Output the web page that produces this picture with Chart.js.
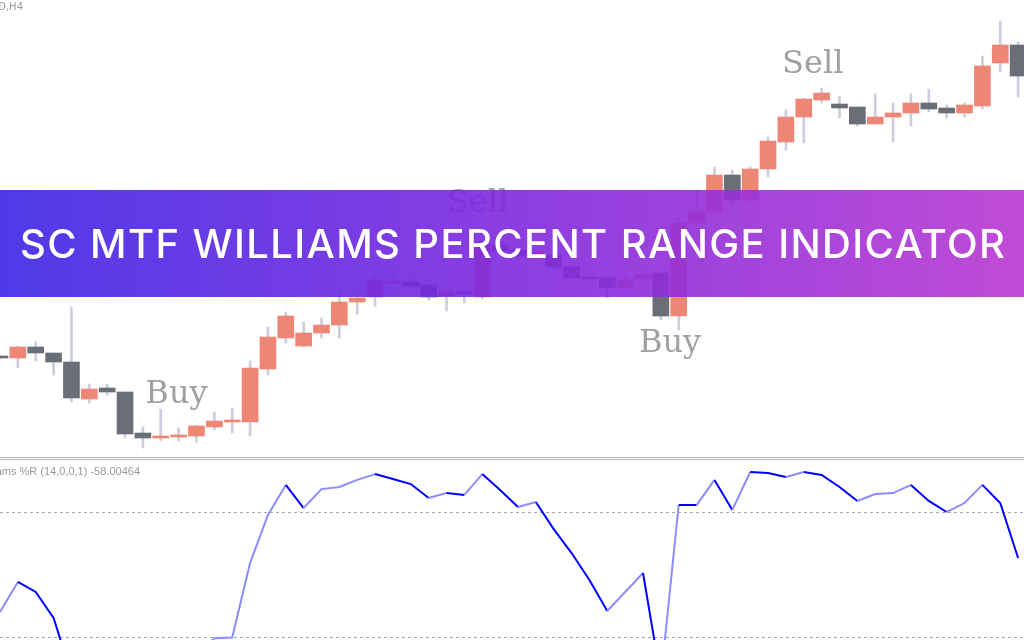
<!DOCTYPE html>
<html><head><meta charset="utf-8">
<script src="https://cdn.jsdelivr.net/npm/chart.js@4.4.1/dist/chart.umd.min.js"></script>
<style>
html,body{margin:0;padding:0;background:#fff;}
#wrap{position:relative;width:1024px;height:640px;overflow:hidden;background:#fff;}
#c1{position:absolute;left:0;top:0;}
#sep{position:absolute;left:0;top:457px;width:1024px;height:1px;border-top:1px solid #b4b4b4;border-bottom:1px solid #b4b4b4;}
#c2{position:absolute;left:0;top:460px;}
#banner{position:absolute;left:0;top:190px;width:1024px;height:107px;
 background:linear-gradient(90deg, rgba(60,36,229,0.9) 0%, rgba(127,40,222,0.9) 50%, rgba(185,56,209,0.9) 100%);}
#btxt{position:absolute;left:20px;top:0;line-height:107px;font-family:Inter,'Open Sans',sans-serif;font-weight:500;font-size:40px;color:#fff;white-space:nowrap;}
</style></head>
<body>
<div id="wrap">
  <canvas id="c1" width="1024" height="457"></canvas>
  <div id="sep"></div>
  <canvas id="c2" width="1024" height="180"></canvas>
  <div id="banner"><span id="btxt">SC MTF WILLIAMS PERCENT RANGE INDICATOR</span></div>
</div>
<script>
// ---- data (price in chart points) ----
const open  = [104,102,113,107,98,61,72,68,27,22,23,24,33,38,38,91,122,114,127,135,158,163,177,178,175,164,169,163,215,210,204,205,193,183,182,173,181,187,144,237,248,285,260,291,318,343,360,356,353,336,343,347,357,352,347,354,397,415];
const high  = [105,114,118,107,153,76,76,68,33,51,32,35,48,52,99,133,148,138,142,170,168,185,185,184,177,170,171,220,219,214,211,208,196,190,185,184,192,190,242,270,293,290,293,323,350,362,372,364,353,366,357,366,371,355,357,404,439,418];
const low   = [101,92,99,85,58,57,65,22,12,19,19,18,30,27,24,85,117,113,122,122,146,154,175,172,160,149,157,161,204,200,201,190,178,170,162,170,178,140,130,235,245,255,257,283,310,317,357,342,334,336,318,334,348,342,343,351,388,363];
const close = [102,113,107,98,62,71,68,26,22,24,25,34,39,40,92,123,144,127,135,158,162,180,179,174,163,168,166,215,209,204,208,193,182,181,172,180,186,144,237,248,285,260,291,319,343,361,367,352,336,343,347,357,351,347,355,394,415,384];
const wpr   = [-68.0,-53.6,-58.4,-70.9,-98,-90,-93,-100,-99,-96,-93,-88,-80.6,-80.3,-44.5,-21.4,-7.0,-18.1,-9.0,-8.0,-4.6,-1.8,-4.2,-6.6,-13.3,-10.9,-11.8,-1.8,-9.4,-17.6,-15.2,-28.2,-39.7,-52.6,-67.5,-58.4,-49.3,-100,-16.6,-16.7,-4.6,-19.0,-0.8,-1.3,-3.2,-0.8,-2.2,-8.0,-14.7,-11.4,-10.9,-7.0,-14.7,-20.0,-15.7,-7.0,-15.7,-42.1];
const levels = [-20, -80];
const signalText  = ['Buy', 'Sell', 'Buy', 'Sell'];
const signalIndex = [9.88, 26.74, 37.51, 45.5];
const signalPrice = [57, 248, 108, 387];
const symbolLabel = 'EURUSD,H4';
const indicatorLabel = 'Williams %R (14,0,0,1) -58.00464';

// ---- styles ----
const UP = '#ee8676', DOWN = '#6b6e77', WICK = '#cbcede';
const X_MIN = 0, X_MAX = 57.33;

const bodies = open.map((o, i) => ({x: i, y: [o, close[i]]}));
const wicks  = open.map((o, i) => ({x: i, y: [low[i], high[i]]}));
const bodyColors = open.map((o, i) => close[i] >= o ? UP : DOWN);

const signalPlugin = {
  id: 'signals',
  afterDatasetsDraw(chart) {
    const {ctx, scales: {x, y}} = chart;
    ctx.save();
    ctx.fillStyle = '#a0a0a0';
    ctx.font = '32px "DejaVu Serif", "Liberation Serif", serif';
    ctx.textAlign = 'center';
    ctx.textBaseline = 'alphabetic';
    signalText.forEach((t, i) => {
      ctx.fillText(t, x.getPixelForValue(signalIndex[i]), y.getPixelForValue(signalPrice[i]));
    });
    ctx.fillStyle = '#9a9a9a';
    ctx.font = '10px "DejaVu Sans", sans-serif';
    ctx.textAlign = 'right';
    ctx.textBaseline = 'top';
    ctx.fillText(symbolLabel, 23, 2);
    ctx.restore();
  }
};

new Chart(document.getElementById('c1'), {
  type: 'bar',
  data: {
    datasets: [
      {data: wicks, backgroundColor: WICK, barThickness: 2, grouped: false, order: 2},
      {data: bodies, backgroundColor: bodyColors, barThickness: 16, grouped: false, order: 1}
    ]
  },
  options: {
    responsive: false, animation: false,
    layout: {padding: 0},
    plugins: {legend: {display: false}, tooltip: {enabled: false}},
    scales: {
      x: {type: 'linear', min: X_MIN, max: X_MAX, offset: false, display: false},
      y: {type: 'linear', min: 3, max: 460, display: false}
    }
  },
  plugins: [signalPlugin]
});

const levelPlugin = {
  id: 'levels',
  beforeDatasetsDraw(chart) {
    const {ctx, chartArea, scales: {y}} = chart;
    ctx.save();
    ctx.strokeStyle = '#a8a8a8';
    ctx.lineWidth = 1;
    ctx.setLineDash([3, 3]);
    levels.forEach(v => {
      const py = Math.round(y.getPixelForValue(v)) + 0.5;
      ctx.beginPath(); ctx.moveTo(chartArea.left, py); ctx.lineTo(chartArea.right, py); ctx.stroke();
    });
    ctx.restore();
  },
  afterDraw(chart) {
    const {ctx} = chart;
    ctx.save();
    ctx.fillStyle = '#9a9a9a';
    ctx.font = '11px "Liberation Sans", Arial, sans-serif';
    ctx.textAlign = 'right';
    ctx.textBaseline = 'top';
    ctx.fillText(indicatorLabel, 140, 6);
    ctx.restore();
  }
};

new Chart(document.getElementById('c2'), {
  type: 'line',
  data: {
    datasets: [{
      data: wpr.map((v, i) => ({x: i, y: v})),
      borderWidth: 2, pointRadius: 0, tension: 0, fill: false,
      borderColor: '#0000ff',
      segment: {borderColor: c => c.p1.parsed.y > c.p0.parsed.y ? '#8c8cff' : '#0000ff'}
    }]
  },
  options: {
    responsive: false, animation: false,
    layout: {padding: 0},
    plugins: {legend: {display: false}, tooltip: {enabled: false}},
    scales: {
      x: {type: 'linear', min: X_MIN, max: X_MAX, display: false},
      y: {type: 'linear', min: -81.45, max: 4.96, display: false}
    }
  },
  plugins: [levelPlugin]
});

// banner text fitted to its width
const span = document.getElementById('btxt');
const n = span.textContent.length;
const w = span.getBoundingClientRect().width;
span.style.letterSpacing = ((985 - w) / (n - 1)) + 'px';
</script>
</body></html>
